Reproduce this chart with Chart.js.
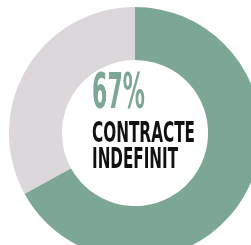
<!DOCTYPE html>
<html>
<head>
<meta charset="utf-8">
<script src="https://cdn.jsdelivr.net/npm/chart.js@4"></script>
<style>
  html, body { margin: 0; padding: 0; background: #fff; overflow: hidden; width: 251px; height: 245px; }
  #wrap { position: absolute; left: 9px; top: 7px; width: 252px; height: 252px; }
</style>
</head>
<body>
<div id="wrap"><canvas id="donut" width="252" height="252"></canvas></div>
<script>
// data
const labels = ['Contracte indefinit', 'Altele'];
const values = [67, 33];
const colors = ['#7ba794', '#dbd7da'];
const bigText = '67%';
const lines = ['CONTRACTE', 'INDEFINIT'];

const fontStack = "'Liberation Sans Narrow', 'DejaVu Sans Condensed', 'Roboto', sans-serif";

// draws the text in the hole, squeezed to look condensed
const centerText = {
    id: 'centerText',
    afterDraw(chart) {
        const arc = chart.getDatasetMeta(0).data[0];
        const ctx = chart.ctx;
        const cx = arc.x, cy = arc.y;

        function put(txt, font, color, dx, dy, w) {
            ctx.save();
            ctx.font = font;
            ctx.fillStyle = color;
            ctx.textBaseline = 'alphabetic';
            ctx.textAlign = 'left';
            const m = ctx.measureText(txt).width;
            ctx.translate(cx + dx, cy + dy);
            ctx.scale(w / m, 1);
            ctx.fillText(txt, 0, 0);
            ctx.restore();
        }

        put(bigText, 'bold 49px ' + fontStack, colors[0], -43, -25, 53);
        put(lines[0], '600 28px ' + fontStack, '#111', -43, 9, 103);
        put(lines[1], '600 28px ' + fontStack, '#111', -43, 35, 86);
    }
};

new Chart(document.getElementById('donut'), {
    type: 'doughnut',
    data: {
        labels: labels,
        datasets: [{
            data: values,
            backgroundColor: colors,
            borderWidth: 0
        }]
    },
    options: {
        responsive: false,
        animation: false,
        cutout: '58%',
        layout: { padding: 0 },
        plugins: {
            legend: { display: false },
            tooltip: { enabled: false }
        }
    },
    plugins: [centerText]
});
</script>
</body>
</html>
